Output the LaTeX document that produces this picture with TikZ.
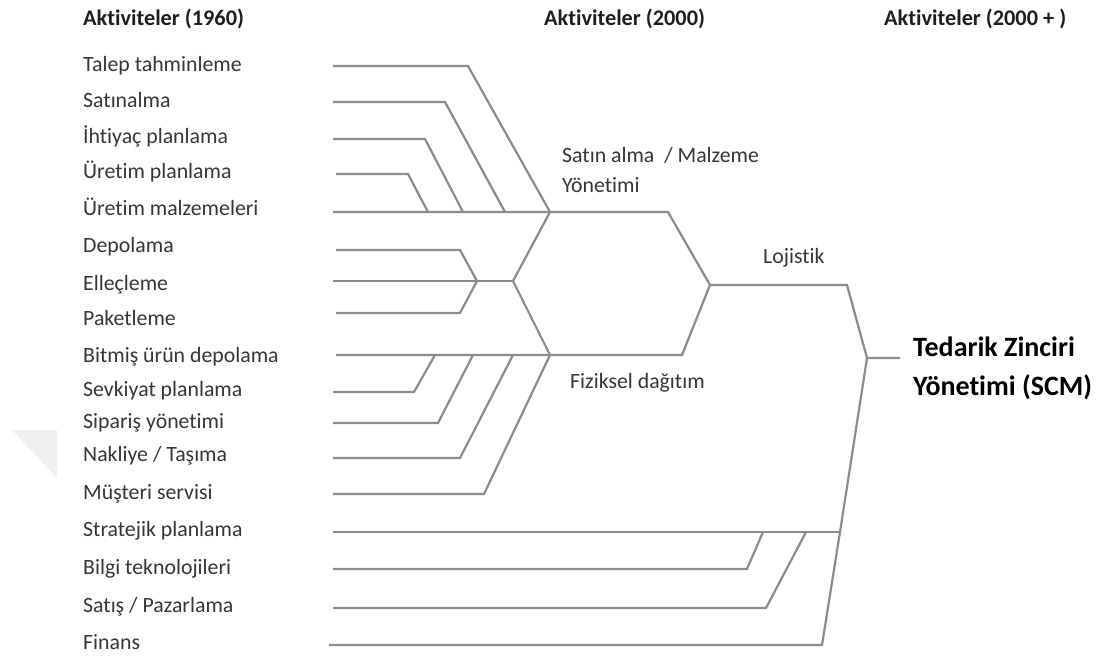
\documentclass[tikz,border=0pt]{standalone}
\usepackage{fontspec}
\setmainfont{Carlito}[Ligatures=NoCommon]
\definecolor{linegray}{HTML}{8C8C8C}
\definecolor{txtgray}{HTML}{363636}
\definecolor{wmgray}{HTML}{F0F0F0}
\tikzset{
  ln/.style={draw=linegray, line width=2.2pt, line join=miter},
  lbl/.style={anchor=base west, inner sep=0pt, text=txtgray, font=\fontsize{21.8}{24}\selectfont},
  hdr/.style={anchor=base west, inner sep=0pt, text=black!88, font=\bfseries\fontsize{22.3}{24}\selectfont},
  mid/.style={anchor=base west, inner sep=0pt, text=txtgray, font=\fontsize{21.8}{24}\selectfont},
  scm/.style={anchor=base west, inner sep=0pt, text=black, font=\bfseries\fontsize{28}{30}\selectfont, align=left}
}
\begin{document}
\begin{tikzpicture}[x=1pt,y=-1pt]
\useasboundingbox[fill=white] (0,0) rectangle (1105,657);
% faint watermark
\fill[wmgray] (12,430) -- (57,430) -- (57,478) -- cycle;
% headings
\node[hdr] (h1) at (83,25) {Aktiviteler (1960)};
\node[hdr] (h2) at (544,25) {Aktiviteler (2000)};
\node[hdr] (h3) at (884,25) {Aktiviteler (2000 + )};
% labels
\node[lbl] (l1) at (83,71) {Talep tahminleme};
\node[lbl] (l2) at (83,107) {Satınalma};
\node[lbl] (l3) at (83,143) {İhtiyaç planlama};
\node[lbl] (l4) at (83,178) {Üretim planlama};
\node[lbl] (l5) at (83,215) {Üretim malzemeleri};
\node[lbl] (l6) at (83,252) {Depolama};
\node[lbl] (l7) at (83,290) {Elleçleme};
\node[lbl] (l8) at (83,325) {Paketleme};
\node[lbl] (l9) at (83,362) {Bitmiş ürün depolama};
\node[lbl] (l10) at (83,396) {Sevkiyat planlama};
\node[lbl] (l11) at (83,428) {Sipariş yönetimi};
\node[lbl] (l12) at (83,461) {Nakliye / Taşıma};
\node[lbl] (l13) at (83,499) {Müşteri servisi};
\node[lbl] (l14) at (83,536) {Stratejik planlama};
\node[lbl] (l15) at (83,574) {Bilgi teknolojileri};
\node[lbl] (l16) at (83,612) {Satış / Pazarlama};
\node[lbl] (l17) at (83,649) {Finans};
% intermediate labels
\node[mid] (m1) at (562,162) {Satın alma~ / Malzeme};
\node[mid] (m2) at (562,192) {Yönetimi};
\node[mid] (m3) at (763,263) {Lojistik};
\node[mid] (m4) at (570,388) {Fiziksel dağıtım};
\node[scm] (scm1) at (913,356) {Tedarik Zinciri};
\node[scm] (scm2) at (913,395) {Yönetimi (SCM)};
% start coordinates
\coordinate (s1) at (333,66);
\coordinate (s2) at (333,102);
\coordinate (s3) at (333,139);
\coordinate (s4) at (336,174);
\coordinate (s5) at (333,212);
\coordinate (s6) at (336,250);
\coordinate (s7) at (333,281);
\coordinate (s8) at (336,313);
\coordinate (s9) at (336,355);
\coordinate (s10) at (333,392);
\coordinate (s11) at (333,423);
\coordinate (s12) at (333,458);
\coordinate (s13) at (333,494);
\coordinate (s14) at (333,532);
\coordinate (s15) at (333,569);
\coordinate (s16) at (333,608);
\coordinate (s17) at (329,645);
% junctions
\coordinate (jA) at (550,212);
\coordinate (jB) at (477,281);
\coordinate (jC) at (513,281);
\coordinate (jD) at (550,355);
\coordinate (jL) at (710,285);
\coordinate (jS) at (867,358);
\coordinate (jT) at (840,532);
\coordinate (e) at (900,358);
% purchasing group
\draw[ln] (s1) -- (468,66) -- (jA);
\draw[ln] (s2) -- (445,102) -- (505,212);
\draw[ln] (s3) -- (425,139) -- (463,212);
\draw[ln] (s4) -- (408,174) -- (428,212);
\draw[ln] (s5) -- (jA) -- (668,212) -- (jL);
% warehouse group
\draw[ln] (s6) -- (460,250) -- (jB);
\draw[ln] (s7) -- (jC);
\draw[ln] (s8) -- (460,313) -- (jB);
\draw[ln] (jA) -- (jC) -- (jD);
% distribution group
\draw[ln] (s9) -- (jD) -- (682,355) -- (jL);
\draw[ln] (s10) -- (414,392) -- (435,355);
\draw[ln] (s11) -- (438,423) -- (473,355);
\draw[ln] (s12) -- (460,458) -- (513,355);
\draw[ln] (s13) -- (484,494) -- (jD);
% logistics to SCM
\draw[ln] (jL) -- (847,285) -- (jS) -- (e);
% lower group
\draw[ln] (s14) -- (jT);
\draw[ln] (s15) -- (747,569) -- (763,532);
\draw[ln] (s16) -- (766,608) -- (806,532);
\draw[ln] (s17) -- (822,645) -- (jT) -- (jS);
\end{tikzpicture}
\end{document}
